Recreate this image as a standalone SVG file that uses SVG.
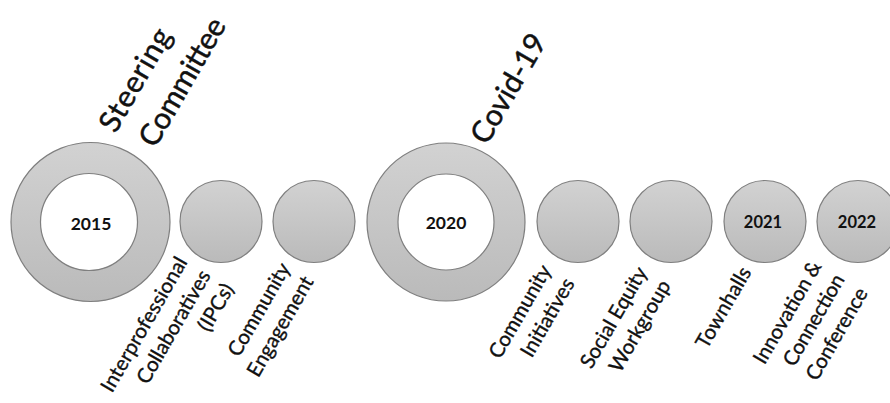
<svg xmlns="http://www.w3.org/2000/svg" width="890" height="403" viewBox="0 0 890 403">
  <defs>
    <linearGradient id="grey" x1="0" y1="0" x2="0" y2="1">
      <stop offset="0" stop-color="#d2d2d2"/>
      <stop offset="1" stop-color="#bababa"/>
    </linearGradient>
    <style>
      .disc { fill: url(#grey); stroke: #7f7f7f; stroke-width: 1.2; fill-rule: evenodd; }
      .year { font-family: Lato, "Liberation Sans", sans-serif; font-weight: bold; font-size: 17.5px; fill: #111; text-anchor: middle; }
      .title { font-family: Lato, "Liberation Sans", sans-serif; font-size: 30px; fill: #111; stroke: #111; stroke-width: 0.45; }
      .label { font-family: Lato, "Liberation Sans", sans-serif; font-size: 20.5px; fill: #111; stroke: #111; stroke-width: 0.35; text-anchor: end; }
    </style>
  </defs>
  <rect width="890" height="403" fill="#ffffff"/>

  <!-- timeline markers -->
  <g id="node-2015">
    <path class="disc" d="M11,222 a79.5,79.5 0 1 0 159,0 a79.5,79.5 0 1 0 -159,0 Z M40.5,222 a48.5,48.5 0 1 0 97,0 a48.5,48.5 0 1 0 -97,0 Z"/>
    <text class="year" x="91" y="230">2015</text>
    <text class="title" transform="translate(115,135) rotate(-60)"><tspan x="1" y="0" textLength="114">Steering</tspan><tspan x="8" y="42" textLength="143">Committee</tspan></text>
  </g>

  <g id="node-ipcs">
    <circle class="disc" cx="221" cy="221.5" r="41"/>
    <text class="label" transform="translate(188,262) rotate(-60)"><tspan x="0" y="0" textLength="152">Interprofessional</tspan><tspan x="0" y="26.8" textLength="127">Collaboratives</tspan><tspan x="0" y="53.6" textLength="51">(IPCs)</tspan></text>
  </g>

  <g id="node-community-engagement">
    <circle class="disc" cx="314" cy="221.5" r="41"/>
    <text class="label" transform="translate(291,268) rotate(-60)"><tspan x="0" y="0" textLength="104">Community</tspan><tspan x="0" y="26.8" textLength="112">Engagement</tspan></text>
  </g>

  <g id="node-2020">
    <path class="disc" d="M367,222 a79,79 0 1 0 158,0 a79,79 0 1 0 -158,0 Z M398,222 a48,48 0 1 0 96,0 a48,48 0 1 0 -96,0 Z"/>
    <text class="year" x="446" y="229">2020</text>
    <text class="title" transform="translate(487,146) rotate(-60)" textLength="121">Covid-19</text>
  </g>

  <g id="node-community-initiatives">
    <circle class="disc" cx="578" cy="221.5" r="41"/>
    <text class="label" transform="translate(552,270) rotate(-60)"><tspan x="0" y="0" textLength="104">Community</tspan><tspan x="0" y="26.8" textLength="87">Initiatives</tspan></text>
  </g>

  <g id="node-social-equity">
    <circle class="disc" cx="671" cy="221.5" r="41"/>
    <text class="label" transform="translate(648,272) rotate(-60)"><tspan x="0" y="0" textLength="113">Social Equity</tspan><tspan x="0" y="26.8" textLength="102">Workgroup</tspan></text>
  </g>

  <g id="node-2021">
    <circle class="disc" cx="765" cy="221.5" r="41"/>
    <text class="year" x="763" y="228" style="font-size:16.5px">2021</text>
    <text class="label" transform="translate(752,272) rotate(-60)" textLength="90">Townhalls</text>
  </g>

  <g id="node-2022">
    <circle class="disc" cx="858" cy="221.5" r="41"/>
    <text class="year" x="857" y="228" style="font-size:16.5px">2022</text>
    <text class="label" transform="translate(822,266) rotate(-60)"><tspan x="0" y="0" textLength="115">Innovation &amp;</tspan><tspan x="0" y="26.8" textLength="102">Connection</tspan><tspan x="0" y="53.6" textLength="103">Conference</tspan></text>
  </g>

  <g id="connectors"></g>
</svg>
